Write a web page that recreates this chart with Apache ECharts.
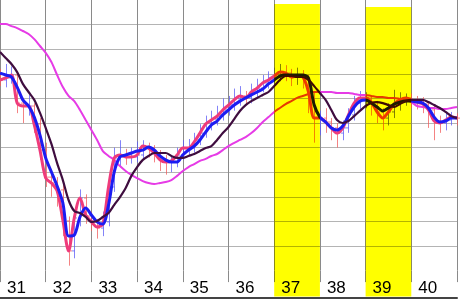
<!DOCTYPE html>
<html><head><meta charset="utf-8">
<script src="https://cdn.jsdelivr.net/npm/echarts@6/dist/echarts.min.js"></script>
<style>html,body{margin:0;padding:0;background:#fff}#c{width:460px;height:299px}</style>
</head><body><div id="c"></div>
<script>
const weekLabels = ['31','32','33','34','35','36','37','38','39','40'];
const categories = [
'31/1','31/2','31/3','31/4','31/5','31/6','31/7','31/8',
'32/1','32/2','32/3','32/4','32/5','32/6','32/7','32/8',
'33/1','33/2','33/3','33/4','33/5','33/6','33/7','33/8',
'34/1','34/2','34/3','34/4','34/5','34/6','34/7','34/8',
'35/1','35/2','35/3','35/4','35/5','35/6','35/7','35/8',
'36/1','36/2','36/3','36/4','36/5','36/6','36/7','36/8',
'37/1','37/2','37/3','37/4','37/5','37/6','37/7','37/8',
'38/1','38/2','38/3','38/4','38/5','38/6','38/7','38/8',
'39/1','39/2','39/3','39/4','39/5','39/6','39/7','39/8',
'40/1','40/2','40/3','40/4','40/5','40/6','40/7','40/8',
'41/1'];

const fastMA = [77.5,78.3,79.5,68.1,66.9,66.9,59.2,49.0,37.6,35.6,
32.4,20.6,8.0,21.4,29.5,22.6,19.8,17.7,18.9,34.0,
45.8,47.0,46.2,46.2,47.0,50.6,49.8,47.8,45.0,44.1,
44.6,47.0,49.8,49.8,52.3,55.9,59.6,61.2,62.8,65.3,
67.3,69.4,71.0,70.2,72.6,74.2,76.3,77.5,79.1,80.7,
80.3,78.7,79.1,78.7,72.6,62.0,62.0,60.4,58.0,55.9,
58.0,63.3,68.1,70.2,70.2,68.5,64.5,62.0,64.5,67.7,
69.4,70.2,69.4,68.5,67.7,65.3,60.8,60.0,61.2,62.4,
62.0];

const blueMA = [80.3,79.5,78.7,74.6,69.4,66.9,62.4,55.1,45.8,40.1,
34.4,27.5,14.1,14.5,21.8,25.4,22.6,19.8,18.9,26.7,
40.1,46.2,47.0,47.8,48.6,49.0,50.2,49.0,46.6,45.0,
44.1,44.1,47.0,49.0,50.6,53.1,56.3,59.2,60.8,63.3,
65.3,67.3,68.9,70.2,71.4,72.6,73.8,75.9,77.5,79.1,
79.5,79.5,79.5,79.5,78.3,67.3,62.4,60.4,58.0,57.2,
58.8,62.8,66.5,68.9,69.4,68.1,66.5,64.9,66.1,67.7,
68.5,68.9,68.9,68.5,68.1,66.1,62.4,60.4,60.8,62.0,
62.0];

const darkMA = [88.9,86.4,84.0,80.7,75.9,72.6,69.4,64.1,58.0,51.5,
43.7,36.8,28.7,24.2,23.4,21.8,19.8,20.2,21.8,23.4,
26.7,29.9,33.6,38.5,42.1,45.0,46.6,47.8,47.8,47.8,
46.6,45.8,45.8,46.6,47.4,48.6,49.8,50.6,53.1,55.9,
58.4,61.6,64.9,67.3,68.9,70.2,71.4,72.6,75.0,77.5,
79.1,79.1,78.7,78.7,77.5,75.0,72.2,69.4,65.3,61.2,
60.0,60.8,62.8,64.9,66.9,68.1,68.5,68.1,67.3,66.5,
67.7,68.9,69.4,69.4,69.4,68.5,67.3,66.1,64.5,62.8,
62.0];

const slowMA = [100.2,100.2,99.4,98.6,97.4,96.2,94.1,91.3,88.5,84.8,
79.5,74.6,71.0,68.9,65.3,61.2,57.2,53.1,48.6,46.6,
45.0,42.5,40.5,38.9,37.6,36.4,35.6,35.2,35.6,36.0,
36.8,38.5,40.5,42.1,43.3,44.6,45.4,46.6,47.4,49.0,
50.6,51.9,53.1,54.3,55.9,58.0,60.4,62.4,64.5,66.1,
67.7,68.9,70.2,71.0,71.8,72.6,72.6,72.6,72.6,72.2,
72.2,72.2,71.8,71.4,71.4,71.0,70.6,70.6,70.2,70.2,
69.8,69.4,68.5,66.9,66.5,66.1,66.1,65.7,65.7,66.1,
66.5];

const openVals = [79.0,77.5,78.3,79.5,68.1,66.9,66.9,59.6,49.0,38.0,
35.6,32.8,20.2,8.0,21.4,29.5,22.2,20.2,17.3,19.8,
34.0,45.8,47.0,46.2,46.2,47.0,50.6,49.8,47.8,45.0,
44.1,44.1,47.0,49.8,49.8,53.1,55.9,60.0,61.6,62.8,
65.3,67.3,69.8,71.0,70.2,72.2,74.2,76.3,78.3,79.5,
80.7,80.3,78.7,79.1,78.7,72.6,62.0,62.0,60.4,58.0,
55.9,58.0,63.3,68.1,70.2,70.2,68.5,64.5,62.0,64.5,
67.7,69.4,70.2,69.4,68.5,67.7,65.3,60.8,60.0,61.2,
62.4];
const closeVals = [77.5,78.3,79.5,68.1,66.9,66.9,59.6,49.0,38.0,35.6,
32.8,20.2,8.0,21.4,29.5,22.2,20.2,17.3,19.8,34.0,
45.8,47.0,46.2,46.2,47.0,50.6,49.8,47.8,45.0,44.1,
44.1,47.0,49.8,49.8,53.1,55.9,60.0,61.6,62.8,65.3,
67.3,69.8,71.0,70.2,72.2,74.2,76.3,78.3,79.5,80.7,
80.3,78.7,79.1,78.7,72.6,62.0,62.0,60.4,58.0,55.9,
58.0,63.3,68.1,70.2,70.2,68.5,64.5,62.0,64.5,67.7,
69.4,70.2,69.4,68.5,67.7,65.3,60.8,60.0,61.2,62.4,
62.0];
const lowVals = [75.0,74.5,76.0,64.0,60.0,63.0,56.0,45.0,34.0,30.0,
26.0,14.0,2.0,5.0,18.0,19.0,16.0,13.0,14.0,18.0,
32.0,42.0,43.0,43.5,44.0,45.0,46.0,44.0,40.5,39.0,
40.0,42.0,45.0,46.5,48.0,51.0,54.0,57.0,59.0,61.0,
63.0,65.0,67.0,67.5,68.0,70.0,72.5,74.0,76.0,77.0,
77.0,75.0,75.5,74.0,64.0,52.0,55.0,56.0,53.0,50.0,
53.0,56.0,61.0,65.0,66.0,63.0,60.0,57.0,59.0,62.0,
65.0,67.0,66.0,65.5,64.0,58.0,53.0,56.0,57.0,59.0,
59.0];
const highVals = [82.0,84.0,83.0,80.0,70.0,71.5,68.0,62.0,52.0,41.0,
38.0,35.0,22.0,24.0,33.0,31.0,24.0,21.0,24.0,37.0,
50.0,53.0,49.5,50.0,52.5,53.0,52.0,51.0,49.0,47.0,
47.0,50.0,53.0,53.5,56.0,59.5,63.0,65.0,67.0,70.0,
71.0,74.0,75.0,73.0,76.0,78.0,79.5,81.0,82.5,84.0,
83.5,82.0,82.5,81.5,79.5,73.0,65.0,66.0,62.0,60.0,
61.0,66.0,71.0,73.0,72.5,71.0,69.0,66.0,68.0,73.5,
72.5,72.0,72.0,71.0,70.5,69.0,67.0,63.0,64.0,64.5,
64.0];

const bandStarts = [48, 64];
const bandEnds = [56.35, 72];
const bandTops = [108.4, 107.2];

const chart = echarts.init(document.getElementById('c'), null, {renderer: 'canvas'});
const ohlcData = categories.map((c, i) => [i, openVals[i], closeVals[i], lowVals[i], highVals[i]]);
const bandData = bandStarts.map((s, i) => [s, bandEnds[i], bandTops[i]]);

const lineSeries = (data, color, width) => ({
  type: 'line', data: data, symbol: 'none', smooth: 0.3,
  lineStyle: {color: color, width: width}, emphasis: {disabled: true}, z: 3
});

chart.setOption({
  backgroundColor: '#ffffff',
  animation: false,
  grid: {left: 0, right: 1, top: 0, bottom: 28.4},
  xAxis: [{
    type: 'category', data: categories, boundaryGap: false,
    axisLine: {show: false},
    axisTick: {show: true, interval: 7, length: 11.5, lineStyle: {color: '#8a8a8a'}},
    axisLabel: {interval: 7, align: 'left', padding: [0, 0, 0, 7], margin: 9, fontSize: 17,
      fontFamily: 'Liberation Sans', color: '#000',
      formatter: (v, idx) => weekLabels[idx / 8] || ''},
    splitLine: {show: true, interval: 7, lineStyle: {color: '#8a8a8a'}}
  }, {
    type: 'category', data: categories, boundaryGap: false, position: 'bottom', offset: 27,
    axisLine: {show: true, lineStyle: {color: '#444', width: 2}},
    axisTick: {show: false}, axisLabel: {show: false}, splitLine: {show: false}
  }],
  yAxis: {
    type: 'value', min: 0, max: 110, interval: 10,
    axisLine: {show: false}, axisTick: {show: false}, axisLabel: {show: false},
    splitLine: {show: true, showMinLine: false, showMaxLine: false, lineStyle: {color: '#b4b4b4'}}
  },
  series: [
    {
      type: 'custom', data: ohlcData, z: 2,
      encode: {x: 0, y: [1, 2, 3, 4]},
      renderItem: (params, api) => {
        const i = api.value(0);
        const o = api.coord([i, api.value(1)]);
        const c = api.coord([i, api.value(2)]);
        const l = api.coord([i, api.value(3)]);
        const h = api.coord([i, api.value(4)]);
        const col = api.value(2) >= api.value(1) ? 'rgba(90,90,245,0.75)' : 'rgba(240,90,90,0.75)';
        const x = Math.round(o[0]) + 0.5;
        return {type: 'group', children: [
          {type: 'line', shape: {x1: x, y1: l[1], x2: x, y2: h[1]}, style: {stroke: col, lineWidth: 1}},
          {type: 'line', shape: {x1: x - 2.5, y1: o[1], x2: x, y2: o[1]}, style: {stroke: col, lineWidth: 1}},
          {type: 'line', shape: {x1: x, y1: c[1], x2: x + 2.5, y2: c[1]}, style: {stroke: col, lineWidth: 1}}
        ]};
      }
    },
    lineSeries(slowMA, '#e63be6', 2),
    lineSeries(fastMA, '#ef3b7b', 3),
    lineSeries(blueMA, '#1c1cf2', 3),
    lineSeries(darkMA, '#3f0d3f', 2.2)
  ]
});

// Highlight bands: yellow multiplied over everything, placed through the grid's own scales
const zr = chart.getZr();
bandData.forEach(b => {
  const p1 = chart.convertToPixel({gridIndex: 0}, [b[0], b[2]]);
  const p2 = chart.convertToPixel({gridIndex: 0}, [b[1], 0]);
  zr.add(new echarts.graphic.Rect({
    shape: {x: p1[0], y: p1[1], width: p2[0] - p1[0], height: p2[1] - p1[1] + 26},
    style: {fill: '#ffff00', blend: 'multiply'},
    z: 100, silent: true
  }));
});
</script></body></html>
